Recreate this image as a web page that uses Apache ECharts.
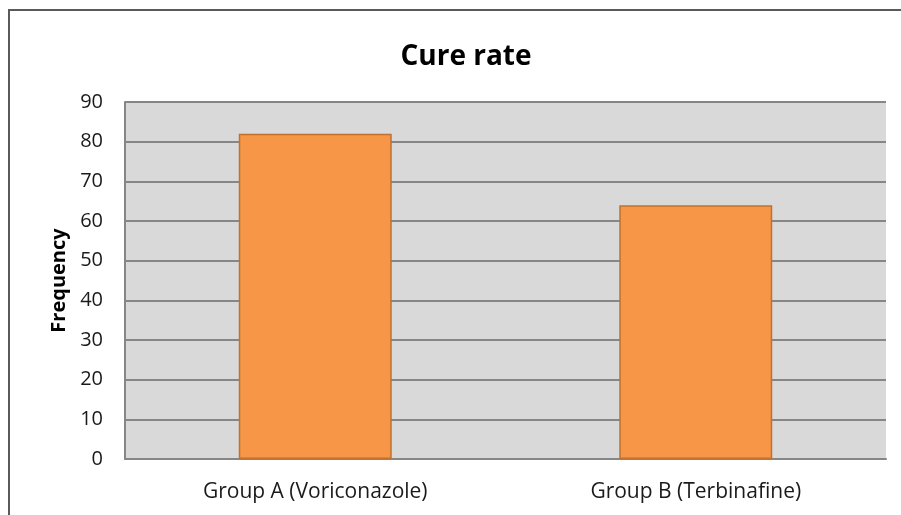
<!DOCTYPE html>
<html>
<head>
<meta charset="utf-8">
<script src="https://cdn.jsdelivr.net/npm/echarts@6/dist/echarts.min.js"></script>
<style>
  html, body { margin: 0; padding: 0; background: #ffffff; }
  #chart { width: 901px; height: 515px; }
</style>
</head>
<body>
<div id="chart"></div>
<script>
// Cure rate by treatment group
const categories = ['Group A (Voriconazole)', 'Group B (Terbinafine)'];
const frequency = [82, 64];
const yTicks = [0, 10, 20, 30, 40, 50, 60, 70, 80, 90];

const chart = echarts.init(document.getElementById('chart'), null, { renderer: 'canvas' });

const gridLeft = 125, gridTop = 102, gridRight = 15, gridBottom = 56;

chart.setOption({
  backgroundColor: '#ffffff',
  animation: false,
  title: {
    text: 'Cure rate',
    left: 461,
    top: 38,
    textAlign: 'center',
    textStyle: { fontFamily: 'Open Sans', fontWeight: 'bold', fontSize: 28, color: '#000000' }
  },
  graphic: [
    {
      type: 'rect',
      silent: true,
      shape: { x: 9, y: 10, width: 1000, height: 1000 },
      style: { fill: 'none', stroke: '#5a5a5a', lineWidth: 2 },
      z: 100
    }
  ],
  grid: {
    left: gridLeft, top: gridTop, right: gridRight, bottom: gridBottom,
    show: true, backgroundColor: '#d9d9d9', borderWidth: 0
  },
  xAxis: {
    type: 'category',
    data: categories,
    axisLine: { show: true, lineStyle: { color: '#868686', width: 2 } },
    axisTick: { show: false },
    axisLabel: { fontFamily: 'Open Sans', fontSize: 21, color: '#1a1a1a', margin: 23 }
  },
  yAxis: {
    type: 'value',
    min: yTicks[0],
    max: yTicks[yTicks.length - 1],
    interval: 10,
    name: 'Frequency',
    nameLocation: 'middle',
    nameGap: 56,
    nameTextStyle: { fontFamily: 'Open Sans', fontWeight: 'bold', fontSize: 20, color: '#000000' },
    axisLine: { show: true, lineStyle: { color: '#868686', width: 2 } },
    axisTick: { show: false },
    axisLabel: { fontFamily: 'Open Sans', fontSize: 20, color: '#1a1a1a', margin: 22 },
    splitLine: { show: true, lineStyle: { color: '#868686', width: 2 } }
  },
  series: [
    {
      type: 'bar',
      data: frequency,
      barWidth: '40.2%',
      itemStyle: { color: '#f79646', borderColor: '#c0712f', borderWidth: 1.5 }
    }
  ]
});
</script>
</body>
</html>
